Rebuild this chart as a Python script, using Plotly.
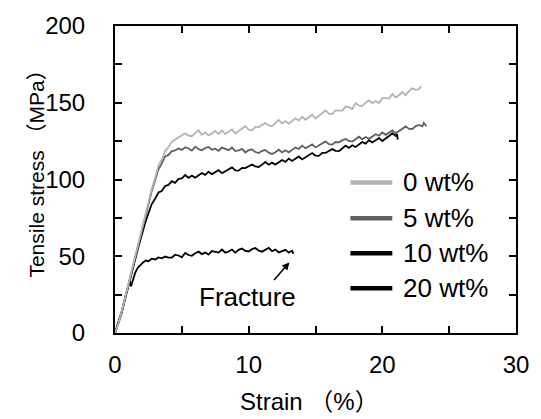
import plotly.graph_objects as go

# ---- data ----
strain_0 = [0, 0.25, 0.5, 0.75, 1.0, 1.25, 1.5, 1.75, 2.0, 2.25, 2.5, 2.75, 3.0, 3.25, 3.5, 3.75, 4.0, 4.25, 4.5, 4.75,
            5.0, 5.25, 5.5, 5.75, 6.0, 6.25, 6.5, 6.75, 7.0, 7.25, 7.5, 7.75, 8.0, 8.25, 8.5, 8.75, 9.0, 9.25, 9.5, 9.75,
            10.0, 10.25, 10.5, 10.75, 11.0, 11.25, 11.5, 11.75, 12.0, 12.25, 12.5, 12.75, 13.0, 13.25, 13.5, 13.75,
            14.0, 14.25, 14.5, 14.75, 15.0, 15.25, 15.5, 15.75, 16.0, 16.25, 16.5, 16.75, 17.0, 17.25, 17.5, 17.75,
            18.0, 18.25, 18.5, 18.75, 19.0, 19.25, 19.5, 19.75, 20.0, 20.25, 20.5, 20.75, 21.0, 21.25, 21.5, 21.75,
            22.0, 22.25, 22.5, 22.75, 22.9]
stress_0 = [0, 6, 14, 23, 31, 40, 49, 58, 67, 76, 85, 94, 101, 109, 113, 118.5, 121, 124.5, 126, 127.5,
            128.8, 130.1, 128.6, 128.2, 130.2, 132.0, 129.2, 130.7, 128.7, 130.1, 131.5, 129.7, 131.9, 129.7, 131.4, 132.6,
            130.0, 131.6, 133.3, 134.7, 132.4, 132.0, 134.3, 134.0, 135.6, 136.8, 135.2, 134.8, 136.7, 138.8, 136.4, 138.1,
            136.4, 138.2, 139.9, 138.4, 140.9, 138.9, 140.8, 142.2, 139.7, 141.5, 143.4, 145.0, 142.9, 142.7, 145.0, 144.9,
            144.9, 147.6, 147.1, 145.9, 149.7, 148.2, 147.8, 150.1, 151.5, 149.7, 151.1, 149.8, 153.0, 153.0, 152.7, 155.7,
            153.5, 154.9, 157.0, 155.0, 157.7, 159.4, 158.4, 158.8, 161.0]

strain_5 = [0, 0.25, 0.5, 0.75, 1.0, 1.25, 1.5, 1.75, 2.0, 2.25, 2.5, 2.75, 3.0, 3.25, 3.5, 3.75, 4.0, 4.25, 4.5, 4.75,
            5.0, 5.25, 5.5, 5.75, 6.0, 6.25, 6.5, 6.75, 7.0, 7.25, 7.5, 7.75, 8.0, 8.25, 8.5, 8.75, 9.0, 9.25, 9.5, 9.75,
            10.0, 10.25, 10.5, 10.75, 11.0, 11.25, 11.5, 11.75, 12.0, 12.25, 12.5, 12.75, 13.0, 13.25, 13.5, 13.75,
            14.0, 14.25, 14.5, 14.75, 15.0, 15.25, 15.5, 15.75, 16.0, 16.25, 16.5, 16.75, 17.0, 17.25, 17.5, 17.75,
            18.0, 18.25, 18.5, 18.75, 19.0, 19.25, 19.5, 19.75, 20.0, 20.25, 20.5, 20.75, 21.0, 21.25, 21.5, 21.75,
            22.0, 22.25, 22.5, 22.75, 23.0, 23.1, 23.3]
stress_5 = [0, 6, 13.5, 22.5, 31, 40, 48.5, 57.5, 66.5, 75, 84, 92.5, 99.5, 106.5, 110.5, 115, 116, 118.5, 119, 120.2,
            119.3, 121.0, 120.2, 118.8, 121.4, 119.8, 119.0, 120.5, 121.2, 119.4, 120.1, 118.6, 120.8, 120.1, 119.1, 120.8,
            118.5, 118.9, 119.9, 117.6, 119.1, 119.6, 117.9, 117.2, 118.6, 119.2, 117.5, 116.6, 117.7, 119.4, 117.6, 119.0,
            117.7, 119.3, 120.9, 119.9, 122.1, 120.4, 121.8, 122.9, 120.9, 122.2, 123.6, 124.8, 123.0, 122.7, 124.4, 124.2,
            125.5, 126.4, 125.1, 124.7, 126.2, 127.9, 126.2, 127.7, 126.5, 128.0, 129.5, 128.5, 130.6, 129.1, 130.7, 132.0,
            130.1, 131.6, 133.2, 134.6, 133.0, 132.9, 134.8, 135.6, 134.7, 136.8, 134.8]

strain_10 = [0, 0.25, 0.5, 0.75, 1.0, 1.25, 1.5, 1.75, 2.0, 2.25, 2.5, 2.75, 3.0, 3.25, 3.5, 3.75, 4.0, 4.25, 4.5, 4.75,
             5.0, 5.25, 5.5, 5.75, 6.0, 6.25, 6.5, 6.75, 7.0, 7.25, 7.5, 7.75, 8.0, 8.25, 8.5, 8.75, 9.0, 9.25, 9.5, 9.75,
             10.0, 10.25, 10.5, 10.75, 11.0, 11.25, 11.5, 11.75, 12.0, 12.25, 12.5, 12.75, 13.0, 13.25, 13.5, 13.75,
             14.0, 14.25, 14.5, 14.75, 15.0, 15.25, 15.5, 15.75, 16.0, 16.25, 16.5, 16.75, 17.0, 17.25, 17.5, 17.75,
             18.0, 18.25, 18.5, 18.75, 19.0, 19.25, 19.5, 19.75, 20.0, 20.25, 20.5, 20.75, 21.0, 21.1, 21.15]
stress_10 = [0, 6, 13, 22, 30, 39, 47.5, 56, 64, 71.5, 78, 84, 87.5, 91.5, 92.5, 95.8, 96.5, 98.9, 97.8, 100.4,
             100.7, 102.9, 101.1, 102.5, 101.2, 102.7, 104.2, 103.0, 105.1, 103.5, 105.0, 106.1, 104.1, 105.4, 106.7, 107.9,
             106.0, 105.8, 107.6, 107.4, 108.6, 109.7, 108.5, 108.1, 109.7, 111.4, 109.6, 111.0, 109.7, 111.2, 112.7, 111.5,
             113.6, 112.1, 113.7, 115.0, 113.1, 114.5, 116.0, 117.2, 115.5, 115.4, 117.3, 117.3, 118.6, 119.8, 118.7, 118.5,
             120.2, 122.1, 120.6, 122.3, 121.2, 122.8, 124.4, 123.4, 125.6, 124.1, 125.7, 127.0, 125.1, 126.7, 128.5, 130.0,
             128.5, 129.6, 126.0]

strain_20 = [0, 0.25, 0.5, 0.75, 1.0, 1.1, 1.2, 1.35, 1.5, 1.7, 1.9, 2.1, 2.3, 2.5, 2.75, 3.0, 3.25, 3.5, 3.75, 4.0,
             4.25, 4.5, 4.75, 5.0, 5.25, 5.5, 5.75, 6.0, 6.25, 6.5, 6.75, 7.0, 7.25, 7.5, 7.75, 8.0, 8.25, 8.5, 8.75,
             9.0, 9.25, 9.5, 9.75, 10.0, 10.25, 10.5, 10.75, 11.0, 11.25, 11.5, 11.75, 12.0, 12.25, 12.5, 12.75,
             13.0, 13.25, 13.35]
stress_20 = [0, 6.5, 14, 23, 31, 34, 30.5, 35.5, 39, 42.5, 44.5, 46, 47.2, 46.8, 48.4, 47.9, 49.2, 48.6, 49.8, 49.1,
             49.1, 51.0, 50.5, 49.3, 52.2, 50.8, 50.3, 52.0, 53.0, 51.4, 52.4, 51.1, 53.4, 53.1, 52.4, 54.4, 52.3, 53.1, 54.4,
             52.4, 54.2, 55.0, 53.5, 53.1, 54.6, 55.3, 53.7, 53.0, 54.2, 55.5, 53.3, 54.4, 52.5, 53.3, 54.2,
             52.4, 53.6, 51.6]

series_names = ["0 wt%", "5 wt%", "10 wt%", "20 wt%"]
series_colors = ["#b3b3b3", "#606060", "#000000", "#000000"]
series_x = [strain_0, strain_5, strain_10, strain_20]
series_y = [stress_0, stress_5, stress_10, stress_20]

x_ticks = [0, 10, 20, 30]
y_ticks = [0, 50, 100, 150, 200]

FONT = "Liberation Sans, Arial, Noto Sans CJK SC, sans-serif"

fig = go.Figure()
for i in [3, 2, 1, 0]:
    fig.add_trace(go.Scatter(x=series_x[i], y=series_y[i], mode="lines",
                             line=dict(color=series_colors[i], width=1.8),
                             name=series_names[i], showlegend=False))

axis_common = dict(showline=True, linecolor="black", linewidth=2, mirror="ticks",
                   ticks="inside", ticklen=7, tickwidth=1.5, tickcolor="black",
                   showgrid=False, zeroline=False,
                   tickfont=dict(family=FONT, size=24, color="black"))

fig.update_xaxes(range=[0, 30], tickvals=x_ticks, ticklabelstandoff=9,
                 minor=dict(dtick=5, ticks="inside", ticklen=7, tickwidth=1.5, tickcolor="black"),
                 **axis_common)
fig.update_yaxes(range=[0, 200], tickvals=y_ticks, ticklabelstandoff=23,
                 minor=dict(dtick=25, ticks="inside", ticklen=7, tickwidth=1.5, tickcolor="black"),
                 **axis_common)

annotations = []
shapes = []
# legend drawn by hand (swatch lines + labels)
leg_y = [0.4905, 0.3734, 0.2595, 0.1456]
for name, col, yy in zip(series_names, series_colors, leg_y):
    shapes.append(dict(type="line", xref="paper", yref="paper", x0=0.587, x1=0.6915, y0=yy, y1=yy,
                       line=dict(color=col, width=4.5)))
    annotations.append(dict(xref="paper", yref="paper", x=0.714, y=yy, text=name, showarrow=False,
                            xanchor="left", yanchor="middle",
                            font=dict(family=FONT, size=26, color="black")))

# axis titles
annotations.append(dict(xref="paper", yref="paper", x=0.485, y=-0.222, text="Strain （%）", showarrow=False,
                        xanchor="center", yanchor="middle", font=dict(family=FONT, size=24, color="black")))
annotations.append(dict(xref="paper", yref="paper", x=-0.195, y=0.535, text="Tensile stress （MPa）", showarrow=False,
                        textangle=-90, xanchor="center", yanchor="middle",
                        font=dict(family=FONT, size=21, color="black")))

# fracture label and arrow
annotations.append(dict(x=9.93, y=23.4, xref="x", yref="y", text="Fracture", showarrow=False,
                        xanchor="center", yanchor="middle", font=dict(family=FONT, size=26, color="black")))
annotations.append(dict(x=13.05, y=46, ax=11.8, ay=33.5, xref="x", yref="y", axref="x", ayref="y",
                        text="", showarrow=True, arrowhead=2, arrowsize=1, arrowwidth=1.5, arrowcolor="black"))

fig.update_layout(width=541, height=419, margin=dict(l=115, r=24, t=17, b=86),
                  paper_bgcolor="white", plot_bgcolor="white",
                  annotations=annotations, shapes=shapes, showlegend=False)

fig.write_html("out.html", config={"displayModeBar": False},
               post_script="document.body.style.margin='0px';document.body.style.overflow='hidden';")
